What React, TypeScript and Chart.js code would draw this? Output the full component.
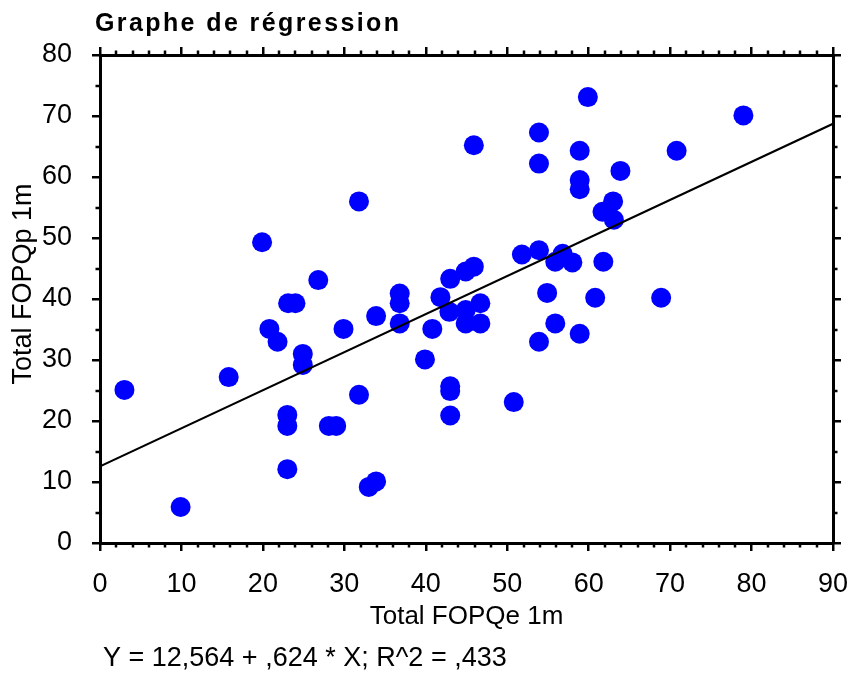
import React, { useEffect, useRef } from "react";
import { Chart, registerables } from "chart.js";

Chart.register(...registerables);

// ---- Data ----
const totalFOPQe = [
  3.0, 9.9, 15.8, 19.9, 20.8, 21.8, 23.1, 24.0, 23.0, 23.0,
  23.0, 24.9, 24.9, 26.8, 28.1, 29.0, 29.9, 31.8, 31.8, 33.0,
  33.9, 33.9, 36.8, 36.8, 36.8, 39.9, 40.8, 41.8, 43.0, 42.9,
  43.0, 43.0, 43.0, 44.9, 45.9, 44.9, 44.9, 45.9, 46.7, 46.7,
  50.8, 51.8, 53.9, 53.9, 53.9, 53.9, 54.9, 55.9, 55.9, 56.8,
  58.0, 58.9, 58.9, 58.9, 58.9, 59.9, 60.8, 61.7, 61.8, 63.0,
  63.1, 63.9, 68.9, 70.8, 79.0,
];
const totalFOPQp = [
  25.1, 5.9, 27.2, 49.3, 35.1, 33.0, 39.3, 39.3, 21.0, 19.2,
  12.1, 31.0, 29.2, 43.1, 19.2, 19.2, 35.1, 56.0, 24.3, 9.2,
  10.1, 37.2, 40.9, 39.3, 36.0, 30.1, 35.1, 40.3, 43.3, 37.9,
  25.7, 24.9, 20.9, 44.5, 45.3, 38.2, 36.0, 65.2, 39.3, 36.0,
  23.1, 47.3, 67.3, 62.2, 48.0, 33.0, 41.0, 46.1, 36.0, 47.4,
  46.0, 64.3, 59.5, 58.0, 34.3, 73.1, 40.2, 54.3, 46.1, 56.0,
  53.0, 61.0, 40.2, 64.3, 70.1,
];

// Regression fit reported under the chart
const interceptB0 = 12.564;
const slopeB1 = 0.624;
const lineXs = [0, 90];

const xTickValues = [0, 10, 20, 30, 40, 50, 60, 70, 80, 90];
const yTickValues = [0, 10, 20, 30, 40, 50, 60, 70, 80];
const xMinorStep = 2;
const yMinorStep = 5;

const chartTitle = "Graphe de régression";
const xAxisTitle = "Total FOPQe 1m";
const yAxisTitle = "Total FOPQp 1m";
const equationText = "Y = 12,564 + ,624 * X; R^2 = ,433";

const FONT = '"Liberation Sans", Arial, sans-serif';

export default function App() {
  const canvasRef = useRef<HTMLCanvasElement | null>(null);

  useEffect(() => {
    const canvas = canvasRef.current;
    if (!canvas) return;

    const points = totalFOPQe.map((x, i) => ({ x, y: totalFOPQp[i] }));
    const fitLine = lineXs.map((x) => ({ x, y: interceptB0 + slopeB1 * x }));

    const setTicks = (values: number[]) => (scale: any) => {
      scale.ticks = values.map((v) => ({ value: v }));
    };
    const fixSize = (w: number | null, h: number | null) => (s: any) => {
      if (w !== null) s.width = w;
      if (h !== null) s.height = h;
      s.paddingLeft = 0;
      s.paddingRight = 0;
      s.paddingTop = 0;
      s.paddingBottom = 0;
    };

    const decorPlugin = {
      id: "decor",
      beforeDraw(chart: any) {
        const ctx = chart.ctx;
        ctx.save();
        ctx.fillStyle = "#ffffff";
        ctx.fillRect(0, 0, chart.width, chart.height);
        ctx.restore();
      },
      afterDraw(chart: any) {
        const ctx = chart.ctx;
        const { left, right, top, bottom } = chart.chartArea;
        const sx = chart.scales.x;
        const sy = chart.scales.y;
        ctx.save();
        // minor ticks on all four sides
        ctx.strokeStyle = "#000";
        ctx.lineWidth = 2.5;
        ctx.beginPath();
        for (let v = sx.min; v <= sx.max; v += xMinorStep) {
          if (v % 10 === 0) continue;
          const px = Math.round(sx.getPixelForValue(v));
          ctx.moveTo(px, bottom);
          ctx.lineTo(px, bottom + 4.5);
          ctx.moveTo(px, top);
          ctx.lineTo(px, top - 4.5);
        }
        for (let v = sy.min; v <= sy.max; v += yMinorStep) {
          if (v % 10 === 0) continue;
          const py = Math.round(sy.getPixelForValue(v));
          ctx.moveTo(left, py);
          ctx.lineTo(left - 4.5, py);
          ctx.moveTo(right, py);
          ctx.lineTo(right + 4.5, py);
        }
        ctx.stroke();

        // texts
        ctx.fillStyle = "#000";
        ctx.textBaseline = "alphabetic";
        ctx.textAlign = "left";
        ctx.font = `bold 25px ${FONT}`;
        (ctx as any).letterSpacing = "2.4px";
        ctx.fillText(chartTitle, 95, 30.5);
        (ctx as any).letterSpacing = "0px";

        ctx.font = `27px ${FONT}`;
        ctx.fillText(equationText, 103, 666);

        ctx.translate(24, 284);
        ctx.rotate(-Math.PI / 2);
        ctx.textAlign = "center";
        ctx.textBaseline = "middle";
        ctx.font = `27px ${FONT}`;
        ctx.fillText(yAxisTitle, 0, 0);
        ctx.restore();
      },
    };

    const grid = {
      display: true,
      drawOnChartArea: false,
      drawTicks: true,
      tickLength: 8,
      color: "#000",
      tickColor: "#000",
      lineWidth: 2.5,
      tickWidth: 2.5,
    };
    const border = { display: true, color: "#000", width: 3 };

    const chart = new Chart(canvas, {
      type: "scatter",
      data: {
        datasets: [
          {
            type: "line",
            label: "fit",
            data: fitLine,
            borderColor: "#000",
            borderWidth: 2.2,
            pointRadius: 0,
            fill: false,
            order: 0,
          } as any,
          {
            label: "points",
            data: points,
            backgroundColor: "#0000ff",
            borderColor: "#0000ff",
            borderWidth: 0,
            pointRadius: 10,
            pointHoverRadius: 10,
            order: 1,
          },
        ],
      },
      plugins: [decorPlugin],
      options: {
        responsive: false,
        animation: false,
        devicePixelRatio: 1,
        layout: { padding: 0 },
        plugins: {
          legend: { display: false },
          title: { display: false },
          tooltip: { enabled: false },
        },
        scales: {
          x: {
            type: "linear",
            position: "bottom",
            min: 0,
            max: 90,
            afterBuildTicks: setTicks(xTickValues),
            afterFit: fixSize(null, 132),
            grid,
            border,
            ticks: {
              color: "#000",
              font: { family: FONT, size: 27 },
              padding: 17,
              autoSkip: false,
              maxRotation: 0,
            },
            title: {
              display: true,
              text: xAxisTitle,
              color: "#000",
              font: { family: FONT, size: 26 },
              padding: { top: 0, bottom: 43 },
            },
          },
          x2: {
            type: "linear",
            position: "top",
            min: 0,
            max: 90,
            afterBuildTicks: setTicks(xTickValues),
            afterFit: fixSize(null, 55),
            grid,
            border,
            ticks: { display: false },
          },
          y: {
            type: "linear",
            position: "left",
            min: 0,
            max: 80,
            afterBuildTicks: setTicks(yTickValues),
            afterFit: fixSize(100, null),
            grid,
            border,
            ticks: {
              color: "#000",
              font: { family: FONT, size: 27 },
              padding: 20,
              autoSkip: false,
            },
          },
          y2: {
            type: "linear",
            position: "right",
            min: 0,
            max: 80,
            afterBuildTicks: setTicks(yTickValues),
            afterFit: fixSize(16, null),
            grid,
            border,
            ticks: { display: false },
          },
        },
      } as any,
    });

    return () => {
      chart.destroy();
    };
  }, []);

  return (
    <div
      style={{
        position: "fixed",
        left: 0,
        top: 0,
        width: 849,
        height: 675,
        background: "#fff",
      }}
    >
      <canvas ref={canvasRef} width={849} height={675} style={{ display: "block" }} />
    </div>
  );
}
